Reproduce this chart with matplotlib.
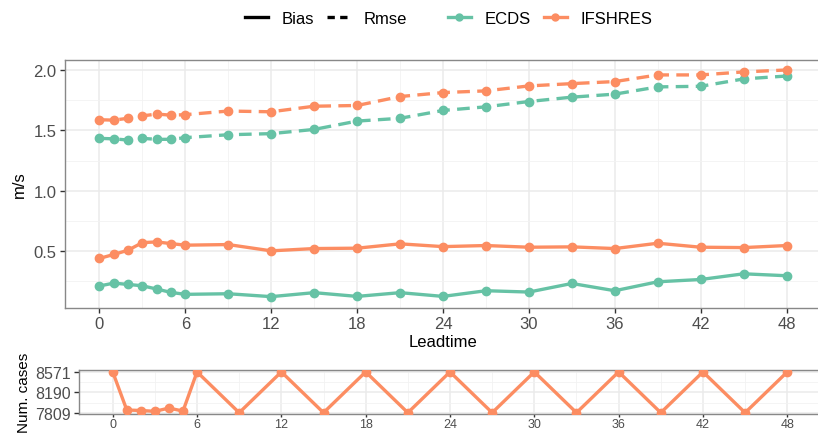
import matplotlib
matplotlib.use("Agg")
import matplotlib.pyplot as plt
from matplotlib.lines import Line2D

plt.rcParams['font.family'] = ['Liberation Sans', 'DejaVu Sans']

# data
leadtime = [0, 1, 2, 3, 4, 5, 6, 9, 12, 15, 18, 21, 24, 27, 30, 33, 36, 39, 42, 45, 48]
ecds_bias = [0.212, 0.236, 0.225, 0.214, 0.187, 0.159, 0.143, 0.148, 0.124, 0.157, 0.126,
             0.157, 0.126, 0.173, 0.162, 0.233, 0.173, 0.247, 0.266, 0.313, 0.297]
ifs_bias = [0.440, 0.473, 0.508, 0.571, 0.577, 0.563, 0.550, 0.555, 0.503, 0.522, 0.525,
            0.561, 0.538, 0.547, 0.533, 0.536, 0.522, 0.566, 0.533, 0.530, 0.547]
ecds_rmse = [1.434, 1.430, 1.420, 1.434, 1.426, 1.426, 1.440, 1.464, 1.473, 1.508, 1.577,
             1.600, 1.665, 1.695, 1.739, 1.775, 1.800, 1.860, 1.865, 1.926, 1.950]
ifs_rmse = [1.588, 1.585, 1.600, 1.620, 1.635, 1.626, 1.630, 1.660, 1.654, 1.700, 1.706,
            1.780, 1.813, 1.827, 1.868, 1.887, 1.904, 1.959, 1.959, 1.984, 2.000]
num_cases = [8571, 7860, 7850, 7835, 7895, 7840, 8571, 7809, 8571, 7809, 8571,
             7809, 8571, 7809, 8571, 7809, 8571, 7809, 8571, 7809, 8571]

x_ticks = [0, 6, 12, 18, 24, 30, 36, 42, 48]
y_ticks = [0.5, 1.0, 1.5, 2.0]
case_ticks = [7809, 8190, 8571]

col_ecds = '#66C2A5'
col_ifs = '#FC8D62'
border = '#888888'
txt = '#4D4D4D'

W, H = 818, 435
fig = plt.figure(figsize=(W / 100, H / 100), dpi=100)


def style(ax):
    ax.set_facecolor('white')
    for s in ax.spines.values():
        s.set_color(border)
        s.set_linewidth(1.0)
    ax.grid(True, which='major', color='#EBEBEB', linewidth=1.1, zorder=0)
    ax.grid(True, which='minor', color='#F2F2F2', linewidth=0.6, zorder=0)
    ax.set_axisbelow(True)
    ax.tick_params(which='major', length=3.5, width=1.0, color='#333333',
                   labelsize=12, labelcolor=txt, pad=2.5)
    ax.tick_params(which='minor', length=0)


# main panel
ax = fig.add_axes([65 / W, 1 - 309 / H, (821 - 65) / W, (309 - 60.7) / H])
style(ax)
lw, ms = 2.4, 6
dash = (3.8, 2.2)
ax.plot(leadtime, ecds_rmse, color=col_ecds, lw=lw, dashes=dash, marker='o', ms=ms, zorder=3)
ax.plot(leadtime, ifs_rmse, color=col_ifs, lw=lw, dashes=dash, marker='o', ms=ms, zorder=3)
ax.plot(leadtime, ecds_bias, color=col_ecds, lw=lw, marker='o', ms=ms, zorder=3)
ax.plot(leadtime, ifs_bias, color=col_ifs, lw=lw, marker='o', ms=ms, zorder=3)
ax.set_xlim(-2.4, 50.4)
ax.set_ylim(0.03, 2.085)
ax.set_xticks(x_ticks)
ax.set_xticks([3, 9, 15, 21, 27, 33, 39, 45], minor=True)
ax.set_yticks(y_ticks)
ax.set_yticks([0.25, 0.75, 1.25, 1.75], minor=True)
ax.set_yticklabels(['0.5', '1.0', '1.5', '2.0'])
ax.set_xlabel('Leadtime', fontsize=12, labelpad=2)
ax.set_ylabel('m/s', fontsize=12, labelpad=5)

# number of cases panel
ax2 = fig.add_axes([79 / W, 1 - 415 / H, (821 - 79) / W, (415 - 370.7) / H])
style(ax2)
ax2.plot(leadtime, num_cases, color=col_ifs, lw=lw, marker='o', ms=ms, zorder=3)
ax2.set_xlim(-2.4, 50.4)
ax2.set_ylim(7785, 8612)
ax2.set_xticks(x_ticks)
ax2.set_xticks([3, 9, 15, 21, 27, 33, 39, 45], minor=True)
ax2.set_yticks(case_ticks)
ax2.set_yticks([7999.5, 8380.5], minor=True)
ax2.tick_params(axis='x', which='major', labelsize=9, length=2.5, pad=0.5)
ax2.tick_params(axis='y', labelsize=11.5)
ax2.set_ylabel('Num. cases', fontsize=11, labelpad=3)

# legends
h1 = [Line2D([], [], color='black', lw=2.4),
      Line2D([], [], color='black', lw=2.4, dashes=(2.2, 1.6))]
fig.legend(h1, ['Bias', 'Rmse'], loc='center', bbox_to_anchor=(326 / W, 1 - 19 / H),
           ncol=2, frameon=False, fontsize=12, handlelength=1.4, columnspacing=0.8,
           handletextpad=0.8)
h2 = [Line2D([], [], color=col_ecds, lw=2.4, marker='o', ms=5),
      Line2D([], [], color=col_ifs, lw=2.4, marker='o', ms=5)]
fig.legend(h2, ['ECDS', 'IFSHRES'], loc='center', bbox_to_anchor=(550 / W, 1 - 19 / H),
           ncol=2, frameon=False, fontsize=12, handlelength=1.4, columnspacing=0.8,
           handletextpad=0.8)

fig.savefig('out.png', dpi=100, facecolor='white')
